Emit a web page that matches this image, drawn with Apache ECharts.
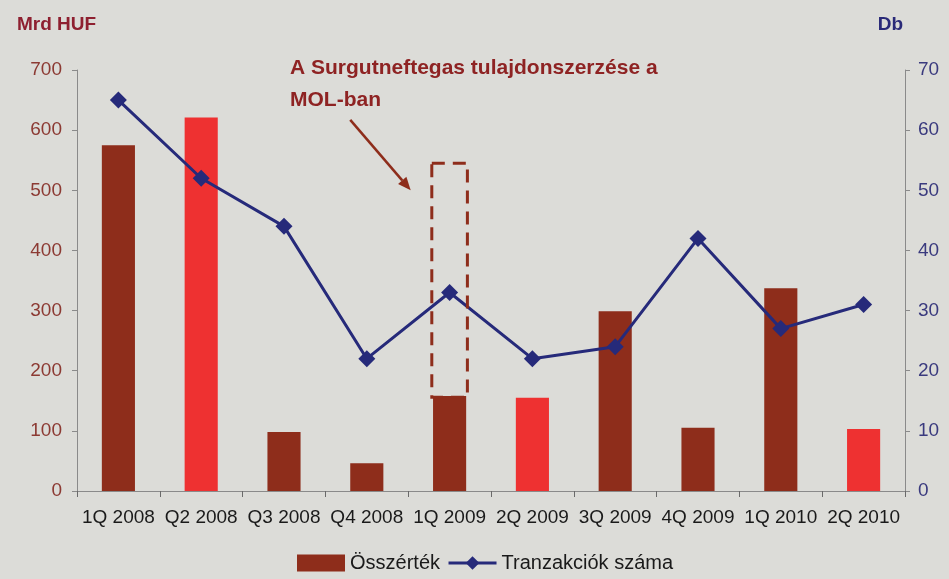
<!DOCTYPE html>
<html>
<head>
<meta charset="utf-8">
<script src="https://cdn.jsdelivr.net/npm/echarts@6/dist/echarts.min.js"></script>
<style>
  html, body { margin: 0; padding: 0; background: #dcdcd8; }
  #chart { width: 949px; height: 579px; }
</style>
</head>
<body>
<div id="chart"></div>
<script>
// negyedévek
var categories = ['1Q 2008', 'Q2 2008', 'Q3 2008', 'Q4 2008', '1Q 2009', '2Q 2009', '3Q 2009', '4Q 2009', '1Q 2010', '2Q 2010'];
// Összérték, Mrd HUF
var osszertek = [575, 621, 98, 46, 158, 155, 299, 105, 337, 103];
// Tranzakciók száma, db
var tranzakciok = [65, 52, 44, 22, 33, 22, 24, 42, 27, 31];
// a világos piros oszlopok
var brightBars = ['Q2 2008', '2Q 2009', '2Q 2010'];
// kiemelt negyedév (Surgutneftegas) : doboz alja/teteje Mrd HUF-ban
var boxCategory = '1Q 2009';
var boxRange = [156, 545];

var darkRed = '#8e2d1b';
var brightRed = '#ee3131';
var navy = '#262a7a';
var font = 'Liberation Sans, Arial, sans-serif';

var chart = echarts.init(document.getElementById('chart'));

var barData = [];
for (var i = 0; i < osszertek.length; i++) {
  var item = { value: osszertek[i] };
  if (brightBars.indexOf(categories[i]) >= 0) {
    item.itemStyle = { color: brightRed };
  }
  barData.push(item);
}

var option = {
  backgroundColor: '#dcdcd8',
  animation: false,
  textStyle: { fontFamily: font },
  title: [
    { text: 'Mrd HUF', left: 12, top: 10, textStyle: { color: '#8e2030', fontSize: 19, fontWeight: 'bold', fontFamily: font } },
    { text: 'Db', right: 41, top: 10, textStyle: { color: '#2a2a78', fontSize: 19, fontWeight: 'bold', fontFamily: font } }
  ],
  grid: { left: 77, right: 44, top: 70, bottom: 88 },
  legend: {
    bottom: 1,
    left: 292,
    itemWidth: 48,
    itemHeight: 17,
    itemGap: 7,
    textStyle: { fontSize: 20, color: '#1a1a1a', fontFamily: font },
    data: [
      { name: 'Összérték', icon: 'rect' },
      { name: 'Tranzakciók száma', lineStyle: { width: 3 } }
    ]
  },
  xAxis: {
    type: 'category',
    data: categories,
    axisLine: { lineStyle: { color: '#8a8a8a', width: 1 } },
    axisTick: { show: true, alignWithLabel: false, length: 6, lineStyle: { color: '#6a6a6a' } },
    axisLabel: { color: '#1a1a1a', fontSize: 19, margin: 17, interval: 0, fontFamily: font }
  },
  yAxis: [
    {
      type: 'value', min: 0, max: 700, interval: 100,
      splitLine: { show: false },
      axisLine: { show: true, lineStyle: { color: '#8a8a8a' } },
      axisTick: { show: true, length: 5, lineStyle: { color: '#8a8a8a' } },
      axisLabel: { color: '#8c3a33', fontSize: 19, margin: 15, fontFamily: font }
    },
    {
      type: 'value', min: 0, max: 70, interval: 10,
      splitLine: { show: false },
      axisLine: { show: true, lineStyle: { color: '#8a8a8a' } },
      axisTick: { show: true, length: 5, lineStyle: { color: '#8a8a8a' } },
      axisLabel: { color: '#3a3a7e', fontSize: 19, margin: 13, fontFamily: font }
    }
  ],
  series: [
    {
      name: 'Összérték',
      type: 'bar',
      barWidth: '40%',
      itemStyle: { color: darkRed },
      data: barData
    },
    {
      name: 'Tranzakciók száma',
      type: 'line',
      yAxisIndex: 1,
      symbol: 'diamond',
      symbolSize: 17,
      lineStyle: { color: navy, width: 3 },
      itemStyle: { color: navy },
      data: tranzakciok
    }
  ]
};
chart.setOption(option);

// kiemelő doboz és nyíl a tengelyek skáláiból
var idx = categories.indexOf(boxCategory);
var boxTop = chart.convertToPixel({ xAxisIndex: 0, yAxisIndex: 0 }, [idx, boxRange[1]]);
var boxBottom = chart.convertToPixel({ xAxisIndex: 0, yAxisIndex: 0 }, [idx, boxRange[0]]);
var prevPt = chart.convertToPixel({ xAxisIndex: 0, yAxisIndex: 0 }, [idx - 1, 617]);
var step = boxTop[0] - prevPt[0];
var boxW = step * 0.43;

var a0 = [prevPt[0] - step * 0.2, prevPt[1]];
var a1p = chart.convertToPixel({ xAxisIndex: 0, yAxisIndex: 0 }, [idx, 500]);
var a1 = [a1p[0] - step * 0.47, a1p[1]];
var ang = Math.atan2(a1[1] - a0[1], a1[0] - a0[0]);
var hl = 13, hw = 5.5;
var base = [a1[0] - hl * Math.cos(ang), a1[1] - hl * Math.sin(ang)];
var head = [
  a1,
  [base[0] + hw * Math.sin(ang), base[1] - hw * Math.cos(ang)],
  [base[0] - hw * Math.sin(ang), base[1] + hw * Math.cos(ang)]
];

chart.setOption({
  graphic: [
    {
      type: 'rect',
      shape: { x: boxTop[0] - boxW / 2, y: boxTop[1], width: boxW, height: boxBottom[1] - boxTop[1] },
      style: { fill: 'none', stroke: darkRed, lineWidth: 3, lineDash: [13, 8] },
      z: 10
    },
    {
      type: 'line',
      shape: { x1: a0[0], y1: a0[1], x2: base[0], y2: base[1] },
      style: { stroke: darkRed, lineWidth: 2.5 },
      z: 10
    },
    {
      type: 'polygon',
      shape: { points: head },
      style: { fill: darkRed },
      z: 10
    },
    {
      type: 'text',
      left: 290,
      top: 52,
      style: {
        text: 'A Surgutneftegas tulajdonszerzése a\nMOL-ban',
        fill: '#8e2323',
        font: 'bold 21px ' + font,
        lineHeight: 32
      },
      z: 10
    }
  ]
});
</script>
</body>
</html>
